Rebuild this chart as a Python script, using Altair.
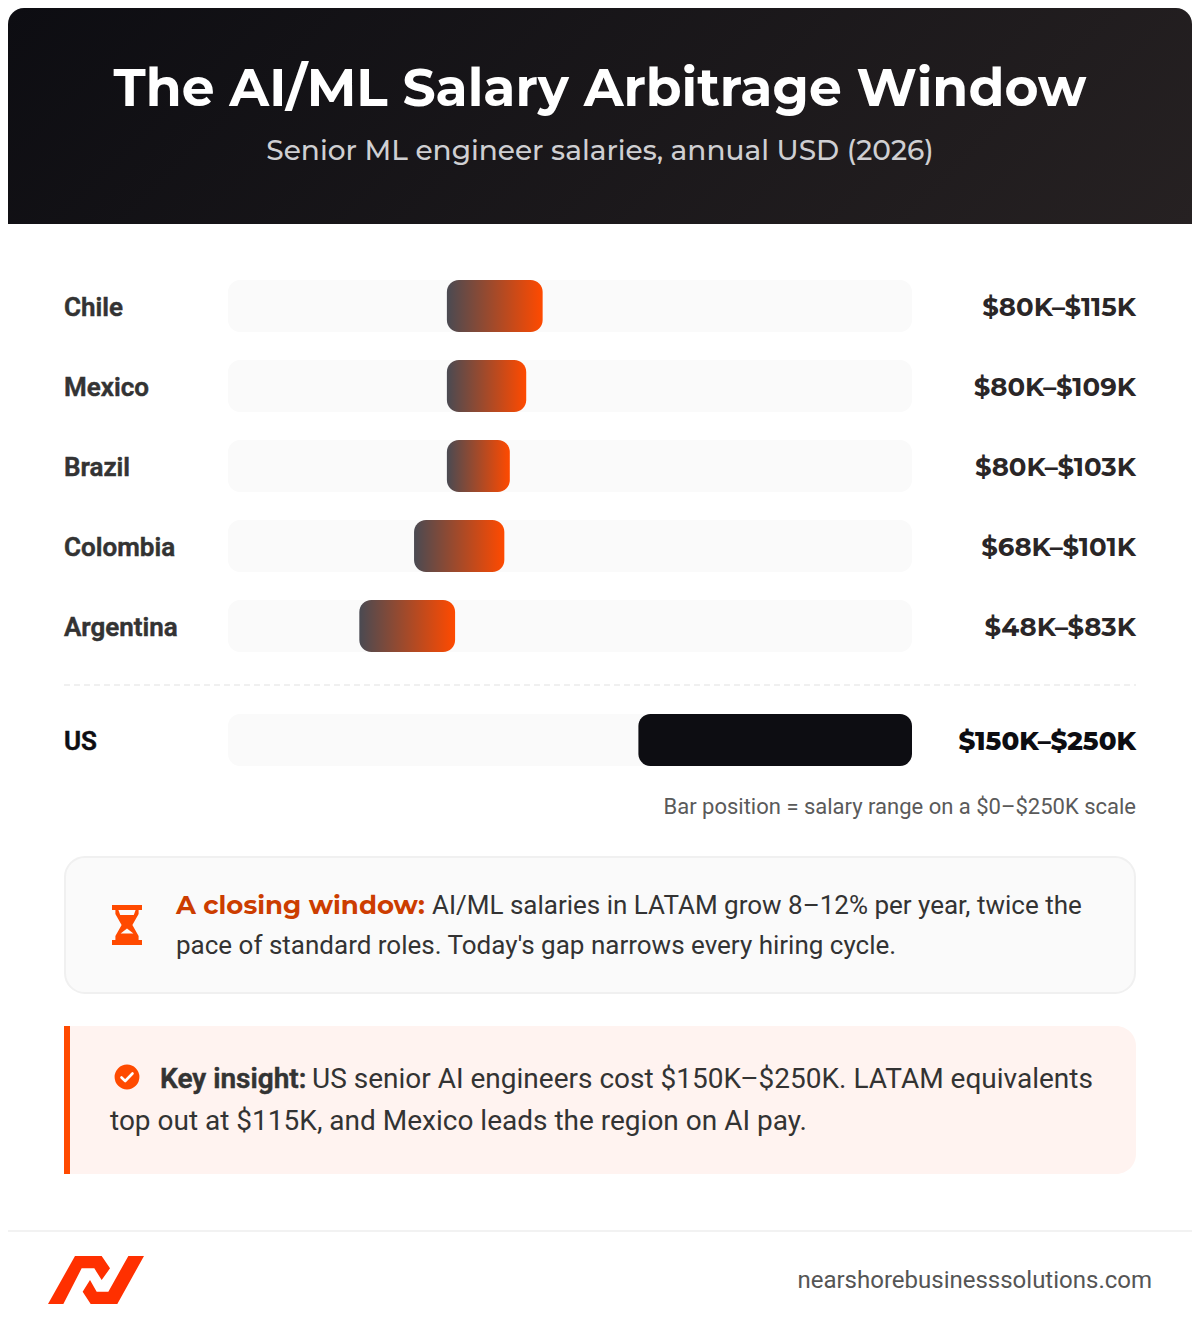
import altair as alt
import pandas as pd

countries = ["Chile", "Mexico", "Brazil", "Colombia", "Argentina"]
lows = [80, 80, 80, 68, 48]
highs = [115, 109, 103, 101, 83]
us_name = ["US"]
us_low = [150]
us_high = [250]
scale_max = 250

TITLE = "The AI/ML Salary Arbitrage Window"
SUBTITLE = "Senior ML engineer salaries, annual USD (2026)"
NOTE = "Bar position = salary range on a $0–$250K scale"
URL = "nearshorebusinesssolutions.com"

W, H = 1184, 1312
X0, X1 = 220, 904  # pixel span of the $0-$250K scale
per_px = scale_max / (X1 - X0)
x_scale = alt.Scale(domain=[-X0 * per_px, (W - X0) * per_px], range=[0, W], nice=False, zero=False)

HEAD = "Montserrat, Inter, sans-serif"
BODY = "Roboto, sans-serif"
ORANGE = "#ff4a00"
INK = "#333333"


def frame(names, lo, hi):
    return pd.DataFrame({
        "name": names, "low": lo, "high": hi, "zero": [0] * len(names),
        "top": [scale_max] * len(names),
        "label": [f"${a}K–${b}K" for a, b in zip(lo, hi)],
    })


def box(x0, y0, x1, y1, fill, **kw):
    return alt.Chart(pd.DataFrame({"a": [0]})).mark_rect(color=fill, **kw).encode(
        x=alt.value(x0), x2=alt.value(x1), y=alt.value(y0), y2=alt.value(y1))


def txt(s, x, y, size, color, family=BODY, weight=400, align="left", **kw):
    return alt.Chart(pd.DataFrame({"t": [s]})).mark_text(
        font=family, fontSize=size, color=color, fontWeight=weight, align=align, baseline="alphabetic", **kw
    ).encode(x=alt.value(x), y=alt.value(y), text="t:N")


def glyph(path, cx, cy, r, fill=None, stroke=None, sw=0):
    kw = dict(shape=path, size=(2 * r) ** 2, opacity=1)
    if fill:
        kw.update(filled=True, fill=fill, strokeWidth=0)
    else:
        kw.update(filled=False, stroke=stroke, strokeWidth=sw, strokeCap="round", strokeJoin="round")
    return alt.Chart(pd.DataFrame({"a": [0]})).mark_point(**kw).encode(x=alt.value(cx), y=alt.value(cy))


def rows(df, rng, bar_color, label_color, value_color, value_weight, dy):
    y = alt.Y("name:N", axis=None, sort=None, scale=alt.Scale(
        domain=list(df["name"]), range=rng, paddingInner=0.35, paddingOuter=0.175))
    base = alt.Chart(df)
    xenc = alt.X("low:Q", axis=None, scale=x_scale)
    return [
        base.mark_bar(color="#fafafa", cornerRadius=12).encode(
            x=alt.X("zero:Q", axis=None, scale=x_scale), x2="top:Q", y=y),
        base.mark_bar(color=bar_color, cornerRadius=12).encode(x=xenc, x2="high:Q", y=y),
        base.mark_text(font=BODY, fontSize=26, fontWeight=600, color=label_color, stroke=label_color,
                       strokeWidth=0.5, align="left", baseline="middle", dy=dy).encode(
            x=alt.value(56), y=y, text="name:N"),
        base.mark_text(font=HEAD, fontSize=26, fontWeight=value_weight, color=value_color, align="right",
                       baseline="middle", dy=dy).encode(x=alt.value(1128), y=y, text="label:N"),
    ]


bar_grad = alt.LinearGradient(gradient="linear", x1=0, x2=1, y1=0, y2=0,
                              stops=[alt.GradientStop(color="#4a4a52", offset=0),
                                     alt.GradientStop(color=ORANGE, offset=1)])
head_grad = alt.LinearGradient(gradient="linear", x1=0, x2=1.147, y1=0, y2=0.215,
                               stops=[alt.GradientStop(color="#0d0d12", offset=0),
                                      alt.GradientStop(color="#262122", offset=1)])

HOURGLASS = ("M-.75,-1 L.75,-1 L.75,-.75 L.58,-.75 L.58,-.55 L.27,0 L.58,.55 L.58,.75 L.75,.75 L.75,1 L-.75,1 L-.75,.75 "
             "L-.58,.75 L-.58,.55 L-.27,0 L-.58,-.55 L-.58,-.75 L-.75,-.75 Z "
             "M-.43,-.75 L-.34,-.5 L.34,-.5 L.43,-.75 Z "
             "M0,.17 L-.32,.43 L.32,.43 Z")
CHECK = "M-.55,.05 L-.18,.4 L.55,-.35"
LOGO_A = "M-1,.5 L-.4375,-.5 L.118,-.5 L.292,-.243 L.118,0 L-.035,-.243 L-.299,-.243 L-.68,.5 Z"
LOGO_B = "M-.125,0 L-.278,.243 L-.111,.5 L.444,.5 L1,-.5 L.674,-.5 L.257,.243 L.014,.243 Z"

layers = [
    box(0, 0, W, 216, head_grad, cornerRadiusTopLeft=16, cornerRadiusTopRight=16),
    txt(TITLE, 592, 98, 52, "#ffffff", HEAD, 700, "center"),
    txt(SUBTITLE, 592, 152, 28, "#cfcfd2", HEAD, 500, "center"),
]
layers += rows(frame(countries, lows, highs), [258, 658], bar_grad, INK, "#2a2627", 700, 2)
layers.append(alt.Chart(pd.DataFrame({"a": [0]})).mark_rule(color="#f0f0f0", strokeWidth=2, strokeDash=[6, 4]).encode(
    x=alt.value(56), x2=alt.value(1128), y=alt.value(677)))
layers += rows(frame(us_name, us_low, us_high), [692, 772], "#0d0d12", "#0d0d12", "#0d0d12", 800, 2)
layers += [
    txt(NOTE, 1128, 806, 22, "#5a5a5a", BODY, 400, "right"),
    box(57, 849, 1127, 985, "#fafafa", cornerRadius=20, stroke="#f0f0f0", strokeWidth=2),
    glyph(HOURGLASS, 119, 917, 20, fill=ORANGE),
    txt("A closing window:", 168, 906, 26, "#cc3d00", HEAD, 700),
    txt("AI/ML salaries in LATAM grow 8–12% per year, twice the", 424, 906, 26, INK),
    txt("pace of standard roles. Today's gap narrows every hiring cycle.", 168, 946, 26, INK),
    box(56, 1018, 1128, 1166, "#fff3f0", cornerRadiusTopRight=20, cornerRadiusBottomRight=20),
    box(56, 1018, 62, 1166, ORANGE),
    alt.Chart(pd.DataFrame({"a": [0]})).mark_point(shape="circle", filled=True, fill=ORANGE, size=616, opacity=1,
                                                   strokeWidth=0).encode(x=alt.value(119), y=alt.value(1069)),
    glyph(CHECK, 119, 1069, 10, stroke="#ffffff", sw=2.6),
    txt("Key insight:", 152, 1080, 28, INK, BODY, 600, stroke=INK, strokeWidth=0.5),
    txt("US senior AI engineers cost $150K–$250K. LATAM equivalents", 304, 1080, 28, INK),
    txt("top out at $115K, and Mexico leads the region on AI pay.", 102, 1122, 28, INK),
    box(0, 1222, W, 1224, "#f2f2f2"),
    glyph(LOGO_A, 88, 1272, 48, fill="#ff3000"),
    glyph(LOGO_B, 88, 1272, 48, fill="#ff3000"),
    txt(URL, 1144, 1280, 24, "#555555", BODY, 400, "right"),
]

chart = alt.layer(*layers).resolve_scale(y="independent").properties(
    width=W, height=H, padding=0, background="white",
    autosize=alt.AutoSizeParams(type="none"),
).configure_view(stroke=None)

chart.save("out.html", embed_options={"renderer": "svg", "actions": False})
